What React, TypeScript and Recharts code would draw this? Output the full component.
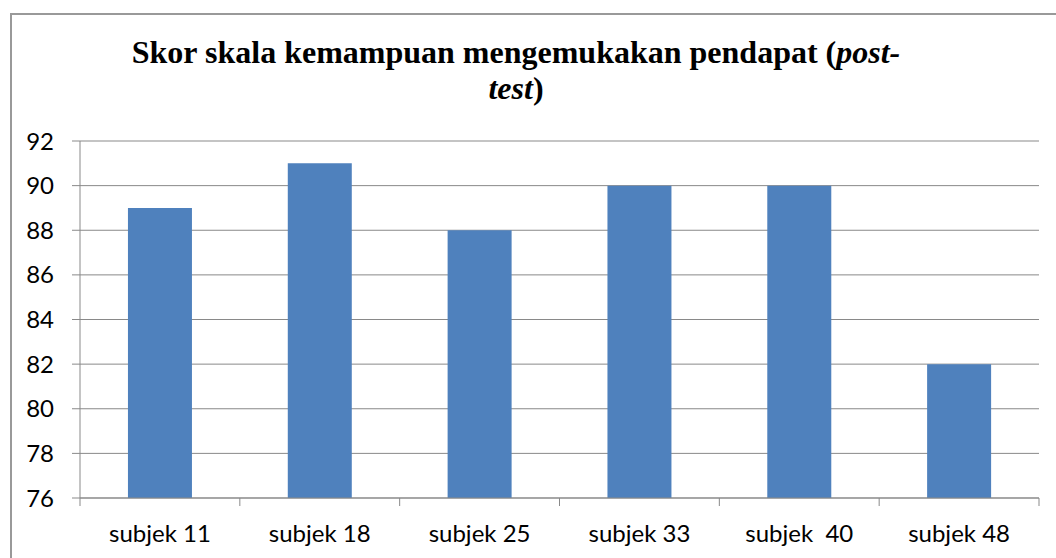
import React from 'react';
import { BarChart, Bar, XAxis, YAxis, CartesianGrid } from 'recharts';

const subjects = ['subjek 11', 'subjek 18', 'subjek 25', 'subjek 33', 'subjek  40', 'subjek 48'];
const scores = [89, 91, 88, 90, 90, 82];
const yTicks = [76, 78, 80, 82, 84, 86, 88, 90, 92];

const chartData = subjects.map((name, i) => ({ name, score: scores[i] }));

const AXIS_GREY = '#898989';
const SANS = 'Lato, "Open Sans", sans-serif';
const SERIF = 'Liberation Serif, Tinos, DejaVu Serif, serif';

const CategoryTick = (props: any) => {
    const { x, y, payload, index, visibleTicksCount } = props;
    const half = payload.offset ?? 0;
    const axisY = y - 27; // tickSize + tickMargin
    return (
        <g>
            <line x1={x - half} y1={axisY} x2={x - half} y2={axisY + 8} stroke={AXIS_GREY} />
            {index === visibleTicksCount - 1 && (
                <line x1={x + half} y1={axisY} x2={x + half} y2={axisY + 8} stroke={AXIS_GREY} />
            )}
            <text
                x={x}
                y={y}
                dy="0.71em"
                textAnchor="middle"
                fill="#000"
                fontSize={24}
                fontFamily={SANS}
                style={{ whiteSpace: 'pre' }}
            >
                {payload.value}
            </text>
        </g>
    );
};

const App: React.FC = () => {
    return (
        <div style={{ position: 'absolute', left: 0, top: 0, width: 1056, height: 558, overflow: 'hidden', background: '#fff' }}>
            <div
                style={{
                    position: 'absolute',
                    left: 10,
                    top: 13,
                    width: 1100,
                    height: 600,
                    border: '2px solid #999',
                }}
            />
            <div
                style={{
                    position: 'absolute',
                    left: 66,
                    top: 34,
                    width: 900,
                    textAlign: 'center',
                    fontFamily: SERIF,
                    fontWeight: 700,
                    fontSize: 32,
                    lineHeight: '36px',
                    color: '#000',
                    whiteSpace: 'nowrap',
                }}
            >
                Skor skala kemampuan mengemukakan pendapat (<i style={{ fontFamily: SERIF }}>post-</i>
                <br />
                <i style={{ fontFamily: SERIF }}>test</i>)
            </div>
            <div style={{ position: 'absolute', left: 0, top: 0 }}>
                <BarChart
                    width={1056}
                    height={558}
                    data={chartData}
                    margin={{ top: 141, right: 17, bottom: 10, left: 0 }}
                    barCategoryGap="30%"
                >
                    <CartesianGrid vertical={false} stroke={AXIS_GREY} />
                    <XAxis
                        dataKey="name"
                        height={50}
                        axisLine={{ stroke: AXIS_GREY }}
                        tickLine={false}
                        tickSize={8}
                        tickMargin={19}
                        interval={0}
                        tick={<CategoryTick />}
                    />
                    <YAxis
                        width={80}
                        domain={[76, 92]}
                        ticks={yTicks}
                        interval={0}
                        axisLine={{ stroke: AXIS_GREY }}
                        tickLine={{ stroke: AXIS_GREY }}
                        tickSize={8}
                        tickMargin={18}
                        tick={{ fill: '#000', fontSize: 24, fontFamily: SANS }}
                    />
                    <Bar dataKey="score" fill="#4F81BD" isAnimationActive={false} />
                </BarChart>
            </div>
        </div>
    );
};

export default App;
